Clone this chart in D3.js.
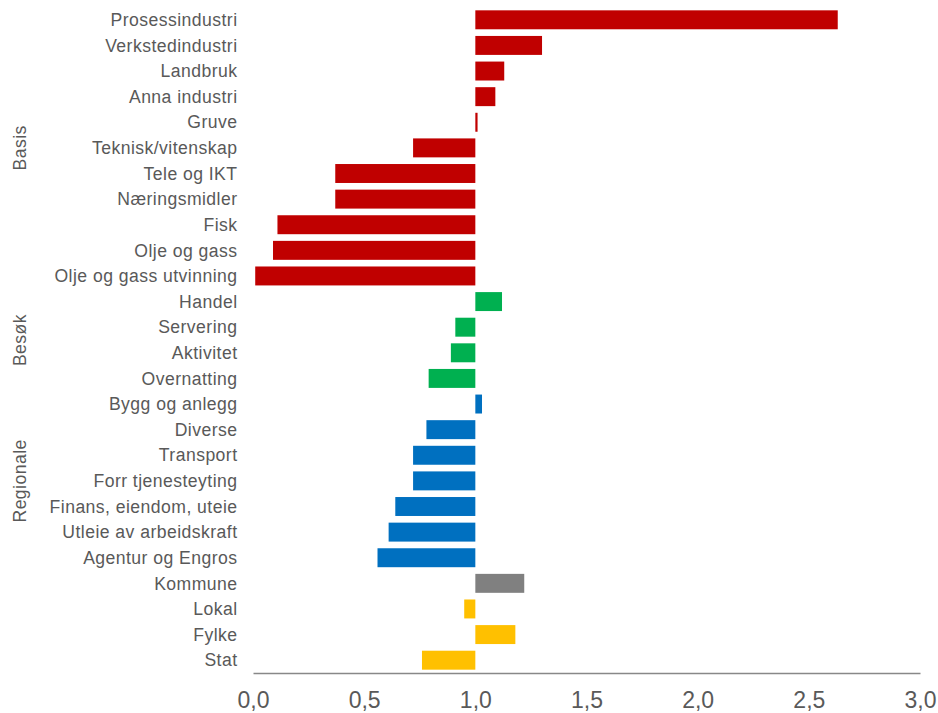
<!DOCTYPE html>
<html><head><meta charset="utf-8">
<script src="https://cdn.jsdelivr.net/npm/d3@7"></script>
<style>body{margin:0;background:#fff}svg{display:block}text{font-family:"Liberation Sans",Arial,sans-serif;fill:#595959}</style>
</head><body>
<svg id="c" width="938" height="713"></svg>
<script>
const categories = ["Prosessindustri","Verkstedindustri","Landbruk","Anna industri","Gruve","Teknisk/vitenskap","Tele og IKT","Næringsmidler","Fisk","Olje og gass","Olje og gass utvinning","Handel","Servering","Aktivitet","Overnatting","Bygg og anlegg","Diverse","Transport","Forr tjenesteyting","Finans, eiendom, uteie","Utleie av arbeidskraft","Agentur og Engros","Kommune","Lokal","Fylke","Stat"];
const values = [2.63,1.30,1.13,1.09,1.01,0.72,0.37,0.37,0.11,0.09,0.01,1.12,0.91,0.89,0.79,1.03,0.78,0.72,0.72,0.64,0.61,0.56,1.22,0.95,1.18,0.76];
const groupOf = ["Basis","Basis","Basis","Basis","Basis","Basis","Basis","Basis","Basis","Basis","Basis","Besøk","Besøk","Besøk","Besøk","Regionale","Regionale","Regionale","Regionale","Regionale","Regionale","Regionale","Kommune","Fylke/Stat","Fylke/Stat","Fylke/Stat"];
const groupLabels = ["Basis","Besøk","Regionale"];
const groupColors = {"Basis":"#C00000","Besøk":"#00B050","Regionale":"#0070C0","Kommune":"#808080","Fylke/Stat":"#FFC000"};
const tickValues = [0,0.5,1,1.5,2,2.5,3];
const baseline = 1;

const svg = d3.select("#c");
const x = d3.scaleLinear().domain([0,3]).range([253,920]);
const y = d3.scaleBand().domain(categories).range([7,673]).paddingInner(0.26).paddingOuter(0.13);

svg.append("g").selectAll("rect").data(categories).join("rect")
  .attr("x",(d,i)=>x(Math.min(values[i],baseline)))
  .attr("width",(d,i)=>Math.max(1,Math.abs(x(values[i])-x(baseline))))
  .attr("y",d=>y(d))
  .attr("height",y.bandwidth())
  .attr("fill",(d,i)=>groupColors[groupOf[i]]);

svg.append("g").selectAll("text").data(categories).join("text")
  .attr("x",237.5).attr("y",d=>y(d)+y.bandwidth()/2)
  .attr("dy","0.35em").attr("text-anchor","end")
  .style("font-size","17.6px").style("letter-spacing","0.45px").text(d=>d);

groupLabels.forEach(g=>{
  const idx = categories.filter((c,i)=>groupOf[i]===g);
  const top = y(idx[0]), bot = y(idx[idx.length-1])+y.bandwidth();
  const cy = (top+bot)/2;
  svg.append("text").attr("transform",`translate(20,${cy}) rotate(-90)`)
    .attr("text-anchor","middle").attr("dy","0.35em").style("font-size","17.6px").style("letter-spacing","0.45px").text(g);
});

const axis = d3.axisBottom(x).tickValues(tickValues).tickSize(0).tickPadding(19)
  .tickFormat(d=>d3.format(".1f")(d).replace(".",","));
const ax = svg.append("g").attr("transform","translate(0,673)").call(axis);
ax.select(".domain").attr("stroke","#888").attr("stroke-width",1.5);
ax.selectAll("text").style("font-size","23px").style("font-family","'Liberation Sans',Arial,sans-serif").attr("fill","#595959");
</script>
</body></html>
